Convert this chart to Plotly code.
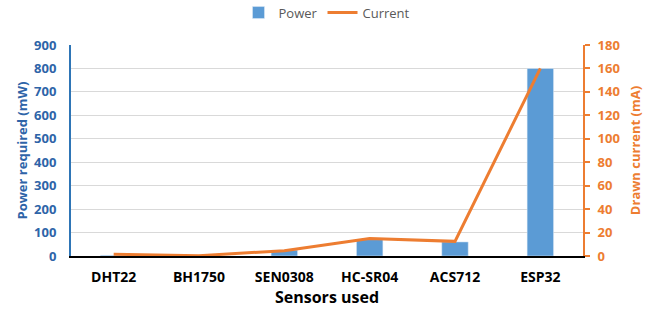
import plotly.graph_objects as go

sensors = ["DHT22", "BH1750", "SEN0308", "HC-SR04", "ACS712", "ESP32"]
power_mw = [3, 1, 25, 70, 60, 800]
current_ma = [1.5, 0.3, 4.5, 15, 12.5, 160]

blue = "#5B9BD5"
blue_dark = "#2E64A8"
orange = "#ED7D31"
font = "Open Sans"

fig = go.Figure()
fig.add_trace(go.Bar(x=sensors, y=power_mw, name="Power", marker_color=blue,
                     width=0.31, yaxis="y"))
fig.add_trace(go.Scatter(x=sensors, y=current_ma, name="Current", mode="lines",
                         line=dict(color=orange, width=3),
                         yaxis="y2"))

fig.update_layout(
    width=651, height=315,
    margin=dict(l=71, r=68, t=45, b=59, autoexpand=False),
    paper_bgcolor="white", plot_bgcolor="white",
    font=dict(family=font, size=13),
    bargap=0.69,
    legend=dict(orientation="h", x=0.5, xanchor="center", y=0.96, yanchor="middle",
                yref="container",
                font=dict(size=13, color="#595959"), traceorder="normal"),
    xaxis=dict(showline=True, linecolor="black", linewidth=2, ticks="",
               ticklabelstandoff=7,
               tickfont=dict(size=14, color="black", family=font, weight="bold"),
               title=dict(text="Sensors used", font=dict(size=16, color="black", weight="bold"),
                          standoff=4)),
    yaxis=dict(range=[0, 900], dtick=100, showgrid=True, gridcolor="#D9D9D9",
               showline=True, linecolor="#2E75B6", linewidth=2, ticks="",
               zeroline=False, ticklabelstandoff=10,
               tickfont=dict(size=13, color=blue_dark, weight="bold"),
               title=dict(text="Power required (mW)", font=dict(size=13, color=blue_dark, weight="bold"),
                          standoff=4)),
    yaxis2=dict(range=[0, 180], dtick=20, overlaying="y", side="right", showgrid=False,
                showline=True, linecolor=orange, linewidth=2, ticks="outside",
                ticklen=5, tickcolor=orange, tickwidth=2, zeroline=False,
                ticklabelstandoff=5,
                tickfont=dict(size=13, color=orange, weight="bold"),
                title=dict(text="Drawn current (mA)", font=dict(size=13, color=orange, weight="bold"),
                           standoff=12)),
)

fig.write_html("out.html")
